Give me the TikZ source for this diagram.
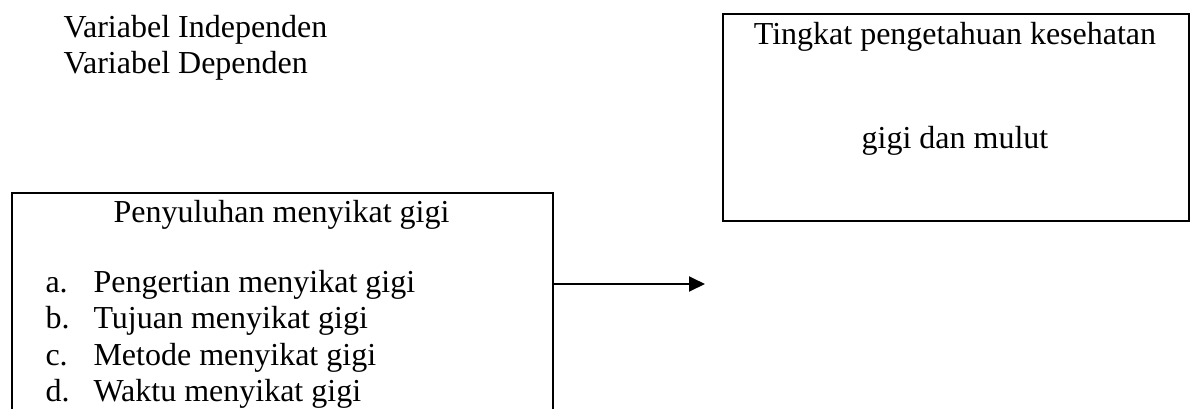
\documentclass[tikz,border=0pt]{standalone}
\usepackage{fontspec}
\setmainfont{Liberation Serif}
\usepackage{tikz}
\usetikzlibrary{arrows.meta,positioning}

\begin{document}
\begin{tikzpicture}[
    x=0.375pt, y=-0.375pt,
    frame/.style={draw=black, line width=0.8pt, inner sep=0pt, anchor=north west},
    lbl/.style={inner sep=0pt, font=\fontsize{12pt}{14pt}\selectfont},
    item/.style={lbl, anchor=base west},
    link/.style={draw=black, line width=0.8pt, -{Triangle[length=6pt,width=5.6pt]}}
]
\useasboundingbox (0,0) rectangle (1194,408);

\node[lbl, anchor=base west] (indep) at (63,37) {Variabel Independen};
\node[lbl, anchor=base west] (dep) at (63,73) {Variabel Dependen};

\node[frame, minimum width=174.75pt, minimum height=77.6pt] (tingkatbox) at (722,13) {};
\node[lbl, anchor=base] (tingkat) at (955,44) {Tingkat pengetahuan kesehatan};
\node[lbl, anchor=base] (mulut) at (955,148) {gigi dan mulut};

\node[frame, minimum width=202.9pt, minimum height=88pt] (penyuluhan) at (11,192) {};
\node[lbl, anchor=base] (judul) at (281.5,222) {Penyuluhan menyikat gigi};
\node[item] (itemA) at (45,292) {\makebox[18pt][l]{a.}Pengertian menyikat gigi};
\node[item] (itemB) at (45,328.5) {\makebox[18pt][l]{b.}Tujuan menyikat gigi};
\node[item] (itemC) at (45,365) {\makebox[18pt][l]{c.}Metode menyikat gigi};
\node[item] (itemD) at (45,401.5) {\makebox[18pt][l]{d.}Waktu menyikat gigi};

\coordinate (tip) at (705,284);
\draw[link] (penyuluhan.east |- tip) -- (tip);
\end{tikzpicture}
\end{document}
